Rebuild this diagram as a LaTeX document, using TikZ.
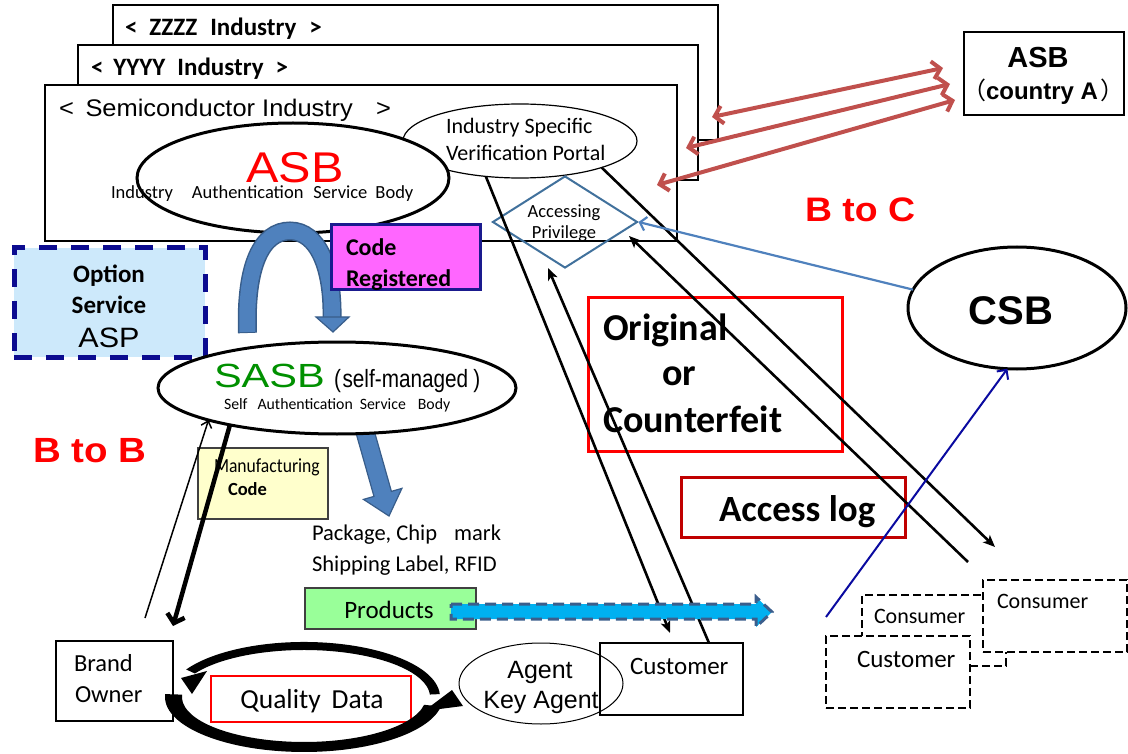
\documentclass[tikz,border=0pt]{standalone}
\usepackage{fontspec}
\usepackage{graphicx}
\usetikzlibrary{shapes.geometric,arrows.meta}
\setmainfont{Carlito}
\newfontfamily\arialfont{Liberation Sans}
\newfontfamily\cjkfont{Noto Sans CJK JP}
\newcommand\setfs[1]{\fontsize{#1}{#1}\selectfont}

\definecolor{linkred}{HTML}{C0504D}
\definecolor{arcblue}{HTML}{4F81BD}
\definecolor{arcedge}{HTML}{385D8A}
\definecolor{privblue}{HTML}{41719C}
\definecolor{optnavy}{HTML}{0C0C90}
\definecolor{optfill}{HTML}{CDE9FB}
\definecolor{magentafill}{HTML}{FF66FF}
\definecolor{codeedge}{HTML}{1A1A8E}
\definecolor{mfgfill}{HTML}{FFFFCC}
\definecolor{prodfill}{HTML}{99FF99}
\definecolor{boxgray}{HTML}{404040}
\definecolor{cyanfill}{HTML}{00B0F0}
\definecolor{cyanedge}{HTML}{3B5E8C}
\definecolor{logred}{HTML}{C00000}
\definecolor{csbline}{HTML}{4F81BD}
\definecolor{deepblue}{HTML}{0A0AA0}
\definecolor{sasbgreen}{HTML}{009000}

\begin{document}
\begin{tikzpicture}[x=1pt,y=-1pt,
  txt/.style={inner sep=0pt,outer sep=0pt},
  panel/.style={draw=black,line width=1.4pt,fill=white,anchor=north west,inner sep=0pt,outer sep=0pt},
  plainbox/.style={anchor=north west,inner sep=0pt,outer sep=0pt},
  oval/.style={draw=black,ellipse,fill=white,inner sep=0pt,outer sep=0pt},
  dashbox/.style={draw=black,line width=2.5pt,dash pattern=on 8pt off 4pt,fill=white,anchor=north west,inner sep=0pt,outer sep=0pt},
  flow/.style={line width=2.6pt,-{Stealth[length=12pt,width=10pt,inset=3pt]}},
  redlink/.style={linkred,line width=4pt,{Straight Barb[length=8pt,width=18pt]}-{Straight Barb[length=8pt,width=18pt]}}
]
\useasboundingbox (0,0) rectangle (1128,754);

% stacked industry panels
\node[panel,minimum width=605,minimum height=135] (zzzz) at (113,5) {};
\node[txt,anchor=base west] (zzzzlbl) at (125,36) {\setfs{25}\bfseries <\hspace{12pt}ZZZZ\hspace{13pt}Industry\hspace{13pt}>};
\node[panel,minimum width=620,minimum height=135] (yyyy) at (78,45) {};
\node[txt,anchor=base west] (yyyylbl) at (91,76) {\setfs{25}\bfseries <\hspace{10pt}YYYY\hspace{12pt}Industry\hspace{12pt}>};
\node[panel,line width=1.8pt,minimum width=632,minimum height=156] (semi) at (45,85) {};
\node[txt,anchor=base west] (semilbl) at (59,117) {\scalebox{1.06}[1]{\arialfont\setfs{24}<\hspace{11pt}Semiconductor Industry\hspace{22pt}>}};

% verification portal and industry ASB
\node[oval,line width=1.2pt,minimum width=234,minimum height=74] (portal) at (520,141) {};
\node[txt,anchor=base west] (portal1) at (446,134) {\setfs{22}Industry Specific};
\node[txt,anchor=base west] (portal2) at (446,161) {\setfs{22}Verification Portal};
\node[oval,line width=3pt,minimum width=312,minimum height=110] (asb) at (293,178) {};
\node[txt,anchor=base,text=red] (asbname) at (295,183) {\scalebox{1.13}[1]{\arialfont\setfs{43}ASB}};
\node[txt,anchor=base west] (asbfull) at (111,199) {\setfs{18.5}Industry\hspace{19pt}Authentication\hspace{10pt}Service\hspace{8pt}Body};

% accessing privilege
\node[draw=privblue,line width=2pt,diamond,minimum width=145,minimum height=92,inner sep=0pt] (priv) at (565,222) {};
\node[txt,anchor=base] (priv1) at (564,218) {\setfs{18.5}Accessing};
\node[txt,anchor=base] (priv2) at (564,239) {\setfs{18.5}Privilege};

% ASB of country A and its links
\node[panel,line width=1.2pt,minimum width=160,minimum height=83] (asbA) at (964,32) {};
\node[txt,anchor=base] (asbAname) at (1038,68) {\arialfont\bfseries\setfs{29}ASB};
\node[txt,anchor=base west] (asbAcountry) at (962,100) {\arialfont\bfseries\setfs{24}{\cjkfont\mdseries （}country A\hspace{2pt}\makebox[12pt][l]{\cjkfont\mdseries ）}};
\coordinate (r1a) at (712,117); \coordinate (r1b) at (943,68);
\coordinate (r2a) at (686,148); \coordinate (r2b) at (950,84);
\coordinate (r3a) at (657,185); \coordinate (r3b) at (955,100);
\draw[redlink] (r1a) -- (r1b);
\draw[redlink] (r2a) -- (r2b);
\draw[redlink] (r3a) -- (r3b);

% U-turn arrow from ASB down to SASB
\draw[arcedge,line width=19pt] (247.5,333) .. controls (245,265) and (262,231) .. (290,231) .. controls (318,231) and (333,268) .. (332,318);
\draw[arcblue,line width=16pt] (247.5,332) .. controls (245,265) and (262,231) .. (290,231) .. controls (318,231) and (333,268) .. (332,318);
\filldraw[fill=arcblue,draw=arcedge,line width=1.2pt] (316,317) -- (349,317) -- (333,332) -- cycle;

% code registered
\node[plainbox,draw=codeedge,fill=magentafill,line width=3pt,minimum width=149,minimum height=65] (codereg) at (331,225) {};
\node[txt,anchor=base west] (codereg1) at (346,256) {\setfs{24}\bfseries Code};
\node[txt,anchor=base west] (codereg2) at (346,287) {\setfs{24}\bfseries Registered};

% option service
\node[plainbox,draw=optnavy,fill=optfill,line width=5pt,dash pattern=on 18pt off 14pt,minimum width=191,minimum height=109] (asp) at (14,248) {};
\node[txt,anchor=base] (asp1) at (109,283) {\setfs{25}\bfseries Option};
\node[txt,anchor=base] (asp2) at (109,314) {\setfs{25}\bfseries Service};
\node[txt,anchor=base] (asp3) at (109,348) {\scalebox{1.09}[1]{\arialfont\setfs{28}ASP}};

% block arrow from SASB to the marking text
\filldraw[fill=arcblue,draw=arcedge,line width=1.2pt] (355.4,430.8) -- (372.8,425.8) -- (391.4,491.4) -- (401.9,488.4) -- (389,516) -- (363.5,499.4) -- (374.0,496.4) -- cycle;

% self-managed ASB
\node[oval,line width=3pt,minimum width=358,minimum height=92] (sasb) at (337,388) {};
\node[txt,anchor=base west,text=sasbgreen] (sasbname) at (214,387) {\scalebox{1.24}[1]{\arialfont\setfs{33.5}SASB}};
\node[txt,anchor=base west] (sasbnote) at (334,387) {\scalebox{0.83}[1]{\arialfont\setfs{25}(\hspace{2pt}self-managed\hspace{6pt})}};
\node[txt,anchor=base west] (sasbfull) at (224,409) {\setfs{15.8}Self\hspace{10pt}Authentication\hspace{7pt}Service\hspace{12pt}Body};

% segment labels
\node[txt,anchor=base west,text=red] (b2b) at (33,462) {\scalebox{1.1}[1]{\arialfont\bfseries\setfs{35}B to B}};
\node[txt,anchor=base west,text=red] (b2c) at (805,222) {\scalebox{1.1}[1]{\arialfont\bfseries\setfs{34}B to C}};

% manufacturing code
\node[plainbox,draw=boxgray,fill=mfgfill,line width=1.2pt,minimum width=130,minimum height=71] (mfg) at (198,448) {};
\node[txt,anchor=base west] (mfg1) at (214,472) {\scalebox{0.88}[1]{\setfs{20}Manufacturing}};
\node[txt,anchor=base west] (mfg2) at (228,495) {\setfs{18.5}\bfseries Code};

% marking text
\node[txt,anchor=base west] (pkg1) at (312,540) {\setfs{22.5}Package, Chip\hspace{17pt}mark};
\node[txt,anchor=base west] (pkg2) at (312,571) {\setfs{22.5}Shipping Label, RFID};

% CSB
\node[oval,line width=3pt,minimum width=218,minimum height=122] (csb) at (1017,308) {};
\node[txt,anchor=base] (csblbl) at (1011,324) {\arialfont\bfseries\setfs{40}CSB};

% verdict and log boxes
\node[plainbox,draw=red,line width=3pt,minimum width=254,minimum height=153] (orig) at (588,298) {};
\node[txt,anchor=base west] (orig1) at (603,341) {\setfs{38}\bfseries Original};
\node[txt,anchor=base west] (orig2) at (662,385) {\setfs{38}\bfseries or};
\node[txt,anchor=base west] (orig3) at (603,432) {\setfs{38}\bfseries Counterfeit};
\node[plainbox,draw=logred,line width=3pt,minimum width=224,minimum height=60] (alog) at (681,477) {};
\node[txt,anchor=base west] (aloglbl) at (719,521) {\setfs{37}\bfseries Access log};

% brand owner, agent, customer
\node[panel,line width=1.2pt,minimum width=117,minimum height=80] (brand) at (56,641) {};
\node[txt,anchor=base west] (brand1) at (74,671) {\setfs{24.5}Brand};
\node[txt,anchor=base west] (brand2) at (75,702) {\setfs{24.5}Owner};
\node[oval,line width=1pt,minimum width=164,minimum height=81] (agent) at (541,683.5) {};
\node[txt,anchor=base] (agent1) at (540,678) {\arialfont\setfs{25}Agent};
\node[txt,anchor=base] (agent2) at (541,708) {\arialfont\setfs{25}Key Agent};
\node[plainbox,draw=black,line width=1.2pt,minimum width=143,minimum height=72] (cust) at (600,643) {};
\node[txt,anchor=base west] (custlbl) at (630,674) {\setfs{25}Customer};

% verification flows
\coordinate (custIn) at (670,633);
\coordinate (privIn) at (548,268);
\coordinate (consIn) at (995,547);
\coordinate (consOut) at (968,562);
\coordinate (privIn2) at (629,236);
\draw[flow] (portal.226) -- (custIn);
\draw[flow] ([xshift=109pt]cust.north west) -- (privIn);
\draw[flow] (portal.342) -- (consIn);
\draw[flow] (consOut) -- (privIn2);
\draw[csbline,line width=2.2pt,-{Straight Barb[length=6pt,width=14pt]}] (csb.170) -- (priv.east);

% brand owner and SASB
\coordinate (boUp) at (145,618);
\coordinate (boDown) at (173,626);
\draw[line width=1.5pt,-{Straight Barb[length=6pt,width=11pt]}] (boUp) -- (sasb.194);
\draw[line width=4.5pt,-{Straight Barb[length=8pt,width=18pt]}] (sasb.199) -- (boDown);

% products and shipment arrow
\node[plainbox,draw=boxgray,fill=prodfill,line width=1.2pt,minimum width=171,minimum height=41] (prod) at (305,588) {};
\node[txt,anchor=base] (prodlbl) at (389,618) {\setfs{25}Products};
\filldraw[fill=cyanfill,draw=cyanedge,line width=3pt,dash pattern=on 11pt off 6pt] (451,604) -- (756,604) -- (756,597) -- (772,612) -- (756,627) -- (756,619) -- (451,619) -- cycle;

% quality data loop
\node[plainbox,draw=red,line width=1.3pt,fill=white,minimum width=200,minimum height=46] (qd) at (211,676) {};
\node[txt,anchor=base] (qdlbl) at (312,708) {\setfs{27.5}Quality\hspace{11pt}Data};
\fill (439.8,694.1) arc[start angle=-3,end angle=-150,x radius=136,y radius=55] -- (194.9,673.5) arc[start angle=-150,end angle=-3,x radius=126,y radius=47] -- cycle;
\fill (181,678) -- (207,671) -- (192,694) -- cycle;
\fill (165.2,694.1) arc[start angle=183,end angle=10,x radius=139,y radius=55] -- (424.1,704.8) arc[start angle=10,end angle=183,x radius=122,y radius=45] -- cycle;
\fill (424,711) -- (463,706) -- (452,690) -- cycle;

% consumers
\node[dashbox,minimum width=144,minimum height=71] (cons2) at (862,595) {};
\node[txt,anchor=base west] (cons2lbl) at (874,623) {\setfs{22}Consumer};
\node[dashbox,minimum width=144,minimum height=72] (cons1) at (983,580) {};
\node[txt,anchor=base west] (cons1lbl) at (997,608) {\setfs{22}Consumer};
\node[dashbox,minimum width=144,minimum height=72] (cust2) at (826,636) {};
\node[txt,anchor=base west] (cust2lbl) at (857,667) {\setfs{25}Customer};

% consumer report to CSB
\coordinate (dbStart) at (826,617);
\draw[deepblue,line width=2pt,-{Straight Barb[length=7pt,width=14pt]}] (dbStart) -- (csb.261);
\end{tikzpicture}
\end{document}
